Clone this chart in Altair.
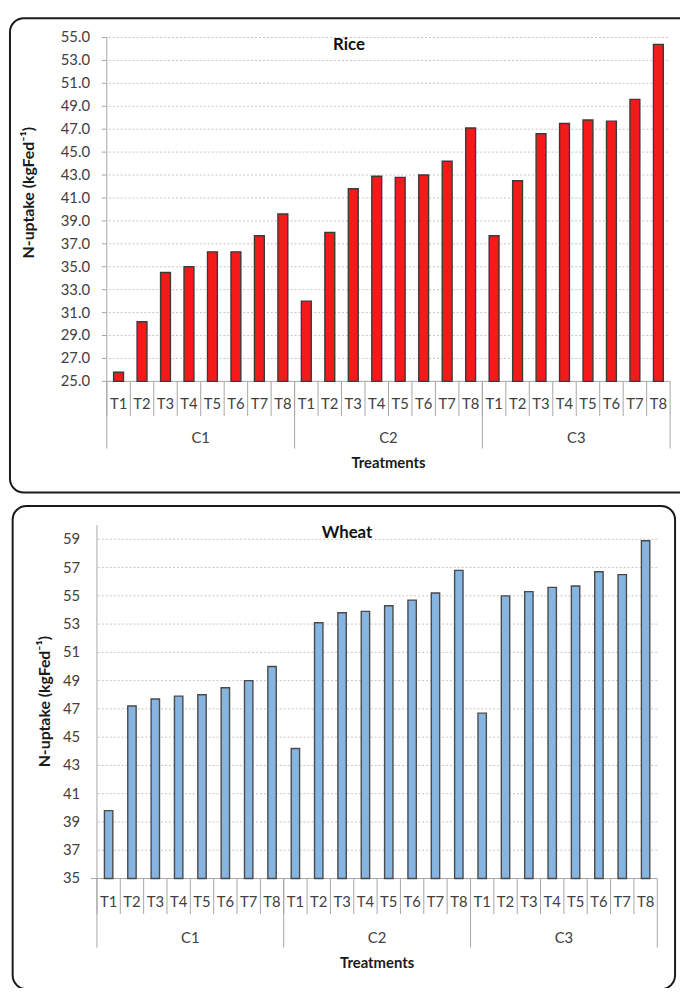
import altair as alt
import pandas as pd

# ---------------- data ----------------
groups = ["C1", "C2", "C3"]
treatments = ["T1", "T2", "T3", "T4", "T5", "T6", "T7", "T8"]

rice_values = [25.8, 30.2, 34.5, 35.0, 36.3, 36.3, 37.7, 39.6,
               32.0, 38.0, 41.8, 42.9, 42.8, 43.0, 44.2, 47.1,
               37.7, 42.5, 46.6, 47.5, 47.8, 47.7, 49.6, 54.4]
wheat_values = [39.8, 47.2, 47.7, 47.9, 48.0, 48.5, 49.0, 50.0,
                44.2, 53.1, 53.8, 53.9, 54.3, 54.7, 55.2, 56.8,
                46.7, 55.0, 55.3, 55.6, 55.7, 56.7, 56.5, 58.9]

rice_ticks = [25.0, 27.0, 29.0, 31.0, 33.0, 35.0, 37.0, 39.0, 41.0,
              43.0, 45.0, 47.0, 49.0, 51.0, 53.0, 55.0]
rice_tick_labels = ["25.0", "27.0", "29.0", "31.0", "33.0", "35.0", "37.0",
                    "39.0", "41.0", "43.0", "45.0", "47.0", "49.0", "51.0",
                    "53.0", "55.0"]
wheat_ticks = [35, 37, 39, 41, 43, 45, 47, 49, 51, 53, 55, 57, 59]
wheat_tick_labels = ["35", "37", "39", "41", "43", "45", "47", "49", "51",
                     "53", "55", "57", "59"]

y_title = "N-uptake (kgFed⁻¹)"
x_title = "Treatments"

FONT = "Lato"
GRAY = "#a6a6a6"
TXT = "#404040"


def make_df(values):
    rows = []
    i = 0
    for g in groups:
        for t in treatments:
            rows.append({"key": f"{g}-{t}", "group": g, "treatment": t,
                         "value": values[i]})
            i += 1
    return pd.DataFrame(rows)


def panel(values, ticks, tick_labels, heading, y_max, L):
    df = make_df(values)
    keys = list(df["key"])
    xs = alt.Scale(domain=keys, range=[L["x0"], L["x1"]],
                   paddingInner=0, paddingOuter=0)
    ys = alt.Scale(domain=[ticks[0], y_max], range=[L["yb"], L["yt"]],
                   zero=False, nice=False)

    def X(bp=0.5):
        return alt.X("key:N", scale=xs, sort=keys, axis=None, bandPosition=bp)

    def Y(f):
        return alt.Y(f, scale=ys, axis=None)

    one = alt.Data(values=[{"a": 1}])
    tick_df = pd.DataFrame({"v": ticks, "lab": tick_labels})

    frame = alt.Chart(one).mark_rect(
        fillOpacity=0, stroke="#1a1a1a", strokeWidth=2, cornerRadius=14
    ).encode(x=alt.value(L["fx0"]), x2=alt.value(L["fx1"]),
             y=alt.value(L["fy0"]), y2=alt.value(L["fy1"]))

    grid = alt.Chart(pd.DataFrame({"v": ticks[1:]})).mark_rule(
        color="#c4c4c4", strokeDash=[2, 2], strokeWidth=1
    ).encode(y=Y("v:Q"), x=alt.value(L["gx0"]), x2=alt.value(L["x1"]))

    base = alt.Chart(pd.DataFrame({"v": [ticks[0]]})).mark_rule(
        color=GRAY, strokeWidth=1
    ).encode(y=Y("v:Q"), x=alt.value(L["bx0"]), x2=alt.value(L["x1"]))

    domain = alt.Chart(pd.DataFrame({"lo": [ticks[0]], "hi": [y_max]})).mark_rule(
        color=GRAY, strokeWidth=1
    ).encode(x=alt.value(L["x0"]), y=Y("lo:Q"), y2="hi:Q")

    labels = alt.Chart(tick_df).mark_text(
        align="right", baseline="middle", font=FONT, fontSize=15, color=TXT
    ).encode(y=Y("v:Q"), x=alt.value(L["lx"]), text="lab:N")

    layers = [frame, grid, base, domain, labels]

    if L["tick"] > 0:
        tk = alt.Chart(tick_df).mark_rule(color=GRAY).encode(
            y=Y("v:Q"), x=alt.value(L["x0"] - L["tick"]), x2=alt.value(L["x0"]))
        layers.append(tk)

    ytitle = alt.Chart(alt.Data(values=[{"t": y_title}])).mark_text(
        angle=270, font=FONT, fontSize=16, fontWeight="bold", color="#1a1a1a",
        align="center", baseline="middle"
    ).encode(x=alt.value(L["tx"]), y=alt.value(L["ty"]), text="t:N")

    bars = alt.Chart(df).mark_bar(
        width=L["bw"], fill=L["fill"], stroke=L["stroke"], strokeWidth=1.4
    ).encode(x=X(), y=Y("value:Q"), y2=alt.datum(ticks[0]))

    seps = alt.Chart(df).mark_rule(color=GRAY).encode(
        x=X(0), y=alt.value(L["yb"]), y2=alt.value(L["sep1"]))
    grp = alt.Chart(df).transform_filter("datum.treatment == 'T1'").mark_rule(
        color=GRAY).encode(x=X(0), y=alt.value(L["yb"]), y2=alt.value(L["grp1"]))
    last = alt.Chart(df).transform_filter(
        f"datum.key == '{keys[-1]}'").mark_rule(color=GRAY).encode(
        x=X(1), y=alt.value(L["yb"]), y2=alt.value(L["grp1"]))

    tlab = alt.Chart(df).mark_text(font=FONT, fontSize=15, color=TXT).encode(
        x=X(), y=alt.value(L["ty_lab"]), text="treatment:N")
    clab = alt.Chart(df).transform_filter("datum.treatment == 'T5'").mark_text(
        font=FONT, fontSize=15, color=TXT).encode(
        x=X(0), y=alt.value(L["cy_lab"]), text="group:N")

    xt = alt.Chart(alt.Data(values=[{"t": x_title}])).mark_text(
        font=FONT, fontSize=15, fontWeight="bold", color="#1a1a1a").encode(
        x=alt.value((L["x0"] + L["x1"]) / 2), y=alt.value(L["xty"]), text="t:N")

    head = alt.Chart(alt.Data(values=[{"t": heading}])).mark_text(
        font=FONT, fontSize=17, fontWeight="bold", color="#111111").encode(
        x=alt.value(L["hx"]), y=alt.value(L["hy"]), text="t:N")

    layers += [ytitle, bars, seps, grp, last, tlab, clab, xt, head]
    return alt.layer(*layers)


rice_L = dict(x0=100, x1=670, yb=372, yt=24, fx0=2, fx1=700, fy0=4.5, fy1=484.5,
              gx0=102, bx0=100, tick=5, lx=83, tx=21, ty=181,
              bw=10, fill="#f51a1a", stroke="#3a3a3a", sep1=407, grp1=440,
              ty_lab=395, cy_lab=429, xty=455, hx=345, hy=32)
wheat_L = dict(x0=90, x1=657, yb=875, yt=517.5, fx0=4.7, fx1=675, fy0=498, fy1=987,
               gx0=91, bx0=84, tick=0, lx=73, tx=38, ty=696,
               bw=8.5, fill="#86b5e2", stroke="#4a4a4a", sep1=911, grp1=945,
               ty_lab=899, cy_lab=935, xty=961, hx=343, hy=525)

rice = panel(rice_values, rice_ticks, rice_tick_labels, "Rice", 55, rice_L)
wheat = panel(wheat_values, wheat_ticks, wheat_tick_labels, "Wheat", 60, wheat_L)

chart = alt.layer(rice, wheat).resolve_scale(
    x="independent", y="independent"
).properties(
    width=680, height=980, autosize=alt.AutoSizeParams(type="none"),
    padding=0, background="white"
).configure_view(strokeWidth=0)

chart.save("out.html", embed_options={"renderer": "svg", "actions": False})
